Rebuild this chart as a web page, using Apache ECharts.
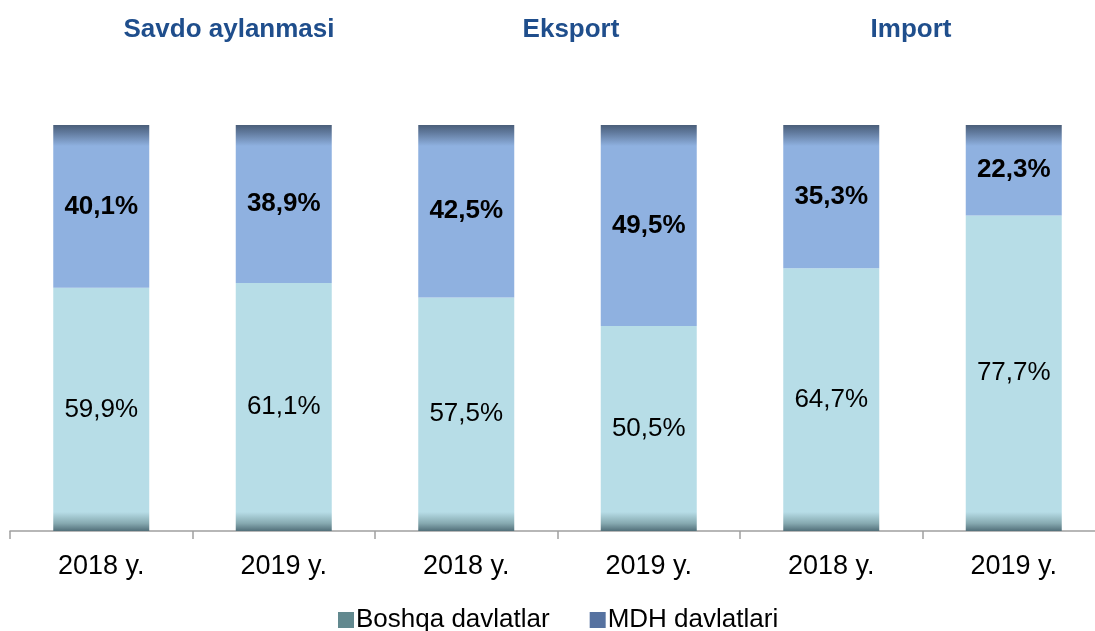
<!DOCTYPE html>
<html>
<head>
<meta charset="utf-8">
<script src="https://cdn.jsdelivr.net/npm/echarts@6/dist/echarts.min.js"></script>
<style>
	html, body { margin: 0; padding: 0; background: #fff; overflow: hidden; }
	/* a bit wider than the window: the last category runs past the right edge */
	#chart { width: 1105px; height: 631px; }
</style>
</head>
<body>
<div id="chart"></div>
<script>
var years = ['2018 y.', '2019 y.', '2018 y.', '2019 y.', '2018 y.', '2019 y.'];
var boshqa = [59.9, 61.1, 57.5, 50.5, 64.7, 77.7]; // Boshqa davlatlar
var mdh = [40.1, 38.9, 42.5, 49.5, 35.3, 22.3]; // MDH davlatlari
var groupTitles = ['Savdo aylanmasi', 'Eksport', 'Import'];
var titleX = [224, 566, 906];

var chart = echarts.init(document.getElementById('chart'));

function pct(p) {
	return p.value.toFixed(1).replace('.', ',') + '%';
}

// gradients in pixel coords (global) so the dark strips stay thin
var mdhColor = new echarts.graphic.LinearGradient(0, 125, 0, 146, [
	{ offset: 0, color: '#4a5e79' },
	{ offset: 0.35, color: '#60799c' },
	{ offset: 1, color: '#8fb1e0' }
], true);
var boshqaColor = new echarts.graphic.LinearGradient(0, 512, 0, 531, [
	{ offset: 0, color: '#b7dde7' },
	{ offset: 0.6, color: '#86a9b0' },
	{ offset: 1, color: '#52707a' }
], true);

var font = 'Liberation Sans, Arial';

var option = {
	animation: false,
	title: groupTitles.map(function(t, i) {
		return {
			text: t,
			left: titleX[i],
			top: 12,
			textAlign: 'center',
			textStyle: { fontFamily: font, fontSize: 26, fontWeight: 'bold', color: '#1f4e8c' }
		};
	}),
	grid: { left: 10, right: 0, top: 125, bottom: 100 },
	xAxis: {
		type: 'category',
		data: years,
		axisLine: { lineStyle: { color: '#a0a0a0', width: 1.5 } },
		axisTick: { show: true, length: 8, lineStyle: { color: '#a0a0a0', width: 1.5 } },
		axisLabel: { fontFamily: font, fontSize: 27, color: '#000', margin: 22 }
	},
	yAxis: { type: 'value', min: 0, max: 100, show: false },
	legend: {
		bottom: -7,
		left: 333,
		itemWidth: 16,
		itemHeight: 16,
		itemGap: 40,
		icon: 'rect',
		textStyle: { fontFamily: font, fontSize: 26, color: '#000', padding: [0, 0, 0, -3] },
		data: [
			{ name: 'Boshqa davlatlar', itemStyle: { color: '#62898f' } },
			{ name: 'MDH davlatlari', itemStyle: { color: '#5672a0' } }
		]
	},
	series: [{
		name: 'Boshqa davlatlar',
		type: 'bar',
		stack: 'a',
		barWidth: 96,
		data: boshqa,
		itemStyle: { color: boshqaColor },
		label: {
			show: true,
			position: 'inside',
			formatter: pct,
			fontFamily: font,
			fontSize: 26,
			color: '#000'
		}
	}, {
		name: 'MDH davlatlari',
		type: 'bar',
		stack: 'a',
		barWidth: 96,
		data: mdh,
		itemStyle: { color: mdhColor },
		label: {
			show: true,
			position: 'inside',
			formatter: pct,
			fontFamily: font,
			fontSize: 26,
			fontWeight: 'bold',
			color: '#000'
		}
	}]
};

chart.setOption(option);
</script>
</body>
</html>
